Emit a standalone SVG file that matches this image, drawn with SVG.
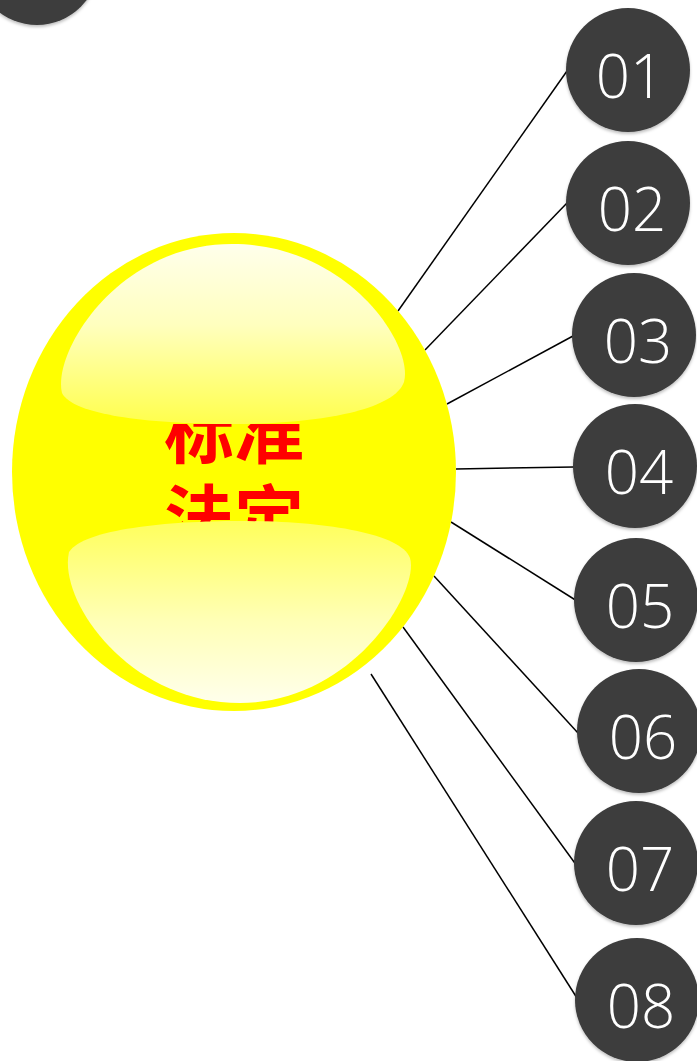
<svg xmlns="http://www.w3.org/2000/svg" width="697" height="1061" viewBox="0 0 697 1061">
  <defs>
    <linearGradient id="gTop" x1="0" y1="0" x2="0" y2="1">
      <stop offset="0" stop-color="#FFFFF8"/>
      <stop offset="0.45" stop-color="#FFFFC8"/>
      <stop offset="1" stop-color="#FFFF50"/>
    </linearGradient>
    <linearGradient id="gBot" x1="0" y1="0" x2="0" y2="1">
      <stop offset="0" stop-color="#FFFF60"/>
      <stop offset="0.55" stop-color="#FFFFC0"/>
      <stop offset="1" stop-color="#FFFFF8"/>
    </linearGradient>
    <clipPath id="txtClip">
      <rect x="100" y="424" width="280" height="98"/>
    </clipPath>
    <filter id="sh" x="-20%" y="-20%" width="140%" height="150%">
      <feDropShadow dx="0" dy="2" stdDeviation="1.5" flood-color="#000" flood-opacity="0.25"/>
    </filter>
  </defs>
  <style>
    .num-c { fill: #3C3C3C; filter: url(#sh); }
    .num-t { fill: #FFFFFF; font-family: "Open Sans", "Liberation Sans", sans-serif; font-weight: 300; font-size: 60px; text-anchor: middle; }
    .conn line { stroke: #000000; stroke-width: 1.5; }
    .center-t { fill: #FF0000; font-family: "Noto Sans CJK SC", sans-serif; font-weight: bold; font-size: 70px; text-anchor: middle; }
  </style>
  <rect width="697" height="1061" fill="#FFFFFF"/>

  <g id="corner">
    <circle class="num-c" cx="37" cy="-37" r="62"/>
  </g>

  <g class="conn" id="connectors">
    <line x1="398" y1="311" x2="567" y2="71"/>
    <line x1="425" y1="350" x2="567" y2="203"/>
    <line x1="447" y1="404" x2="573" y2="336"/>
    <line x1="456" y1="469" x2="574" y2="467"/>
    <line x1="451" y1="522" x2="577" y2="601"/>
    <line x1="434" y1="576" x2="578" y2="733"/>
    <line x1="403" y1="627" x2="577" y2="866"/>
    <line x1="371" y1="674" x2="577" y2="998"/>
  </g>

  <g id="center">
    <ellipse cx="234" cy="472" rx="222" ry="239" fill="#FFFF00"/>
    <g clip-path="url(#txtClip)">
      <text class="center-t"><tspan x="234" y="458">标准</tspan><tspan x="234" y="544">法定</tspan></text>
    </g>
    <path d="M62,393 C52,352 118,244 232,244 C348,244 414,345 404,382 C394,410 320,424 232,424 C145,424 72,414 62,393 Z" fill="url(#gTop)" opacity="0.95"/>
    <path d="M69,552 C84,529 168,521 240,521 C318,521 400,532 410,558 C420,592 352,703 240,703 C128,703 58,600 69,552 Z" fill="url(#gBot)" opacity="0.95"/>
  </g>

  <g id="n01"><circle class="num-c" cx="628" cy="70" r="62"/><text class="num-t" x="630" y="98">01</text></g>
  <g id="n02"><circle class="num-c" cx="628" cy="203" r="62"/><text class="num-t" x="632" y="231">02</text></g>
  <g id="n03"><circle class="num-c" cx="634" cy="335" r="62"/><text class="num-t" x="638" y="363">03</text></g>
  <g id="n04"><circle class="num-c" cx="635" cy="466" r="62"/><text class="num-t" x="639" y="494">04</text></g>
  <g id="n05"><circle class="num-c" cx="636" cy="600" r="62"/><text class="num-t" x="640" y="628">05</text></g>
  <g id="n06"><circle class="num-c" cx="639" cy="731" r="62"/><text class="num-t" x="643" y="759">06</text></g>
  <g id="n07"><circle class="num-c" cx="636" cy="863" r="62"/><text class="num-t" x="640" y="891">07</text></g>
  <g id="n08"><circle class="num-c" cx="637" cy="1000" r="62"/><text class="num-t" x="641" y="1028">08</text></g>
</svg>
